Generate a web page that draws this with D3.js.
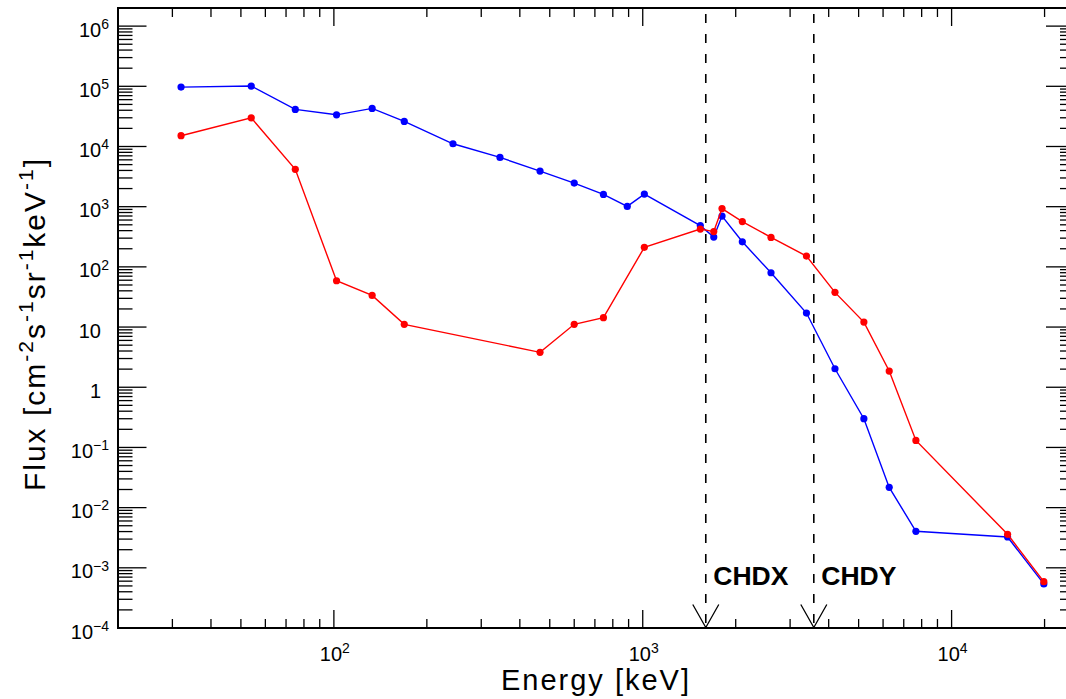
<!DOCTYPE html>
<html>
<head>
<meta charset="utf-8">
<script src="https://cdn.jsdelivr.net/npm/d3@7"></script>
<style>
  body { margin: 0; background: #fff; }
  svg { display: block; font-family: "Liberation Sans", Arial, sans-serif; }
</style>
</head>
<body>
<div id="graph"></div>
<script>
// energy channels [keV]
var energy = [32, 54, 75, 102, 133, 169, 243, 345, 465, 600, 746, 891, 1012,
              1536, 1698, 1806, 2101, 2602, 3389, 4192, 5200, 6281, 7664, 15180, 19890];

// flux values, null = no point for that channel
var fluxBlue = [97000, 101000, 41300, 33600, 42900, 26100, 11100, 6590, 3900, 2470, 1600, 1010, 1620,
                485, 313, 698, 261, 79.8, 17.1, 2.03, 0.300, 0.0217, 0.00404, 0.00325, 0.00054];
var fluxRed  = [15100, 29900, 4170, 58.8, 33.6, 11.1, null, null, 3.80, 11.1, 14.3, null, 211,
                425, 386, 930, 566, 309, 151, 37.7, 12.1, 1.86, 0.131, 0.00360, 0.000588];

// detector thresholds
var markerNames = ["CHDX", "CHDY"];
var markerEnergy = [1600, 3580];

// tick labels (exponents)
var yExp = [-4, -3, -2, -1, 0, 1, 2, 3, 4, 5, 6];
var xExp = [2, 3, 4];

var W = 1066, H = 699;
var pL = 118, pR = 1074.5, pT = 8, pB = 628;

var svg = d3.select("#graph")
  .append("svg")
    .attr("width", W)
    .attr("height", H)

var x = d3.scaleLog().domain([20, 25000]).range([pL, pR]);
var y = d3.scaleLog().domain([1e-4, 2e6]).range([pB, pT]);

// minor/major ticks
var yMajor = yExp.map(function(e) { return Math.pow(10, e); });
var yMinor = [];
yExp.forEach(function(e) {
  for (var k = 2; k <= 9; k++) {
    var v = k * Math.pow(10, e);
    if (v <= 2e6) yMinor.push(v);
  }
});
var xMajor = xExp.map(function(e) { return Math.pow(10, e); });
var xMinor = [];
[1, 2, 3, 4].forEach(function(e) {
  for (var k = 2; k <= 9; k++) {
    var v = k * Math.pow(10, e);
    if (v <= 25000) xMinor.push(v);
  }
});

var ticks = svg.append("g").attr("stroke", "#000").attr("stroke-width", 1.3);

function yTicks(vals, len) {
  ticks.selectAll(null).data(vals).enter().append("line")
    .attr("x1", pL).attr("x2", pL + len)
    .attr("y1", function(d) { return y(d); }).attr("y2", function(d) { return y(d); });
  ticks.selectAll(null).data(vals).enter().append("line")
    .attr("x1", pR).attr("x2", pR - len)
    .attr("y1", function(d) { return y(d); }).attr("y2", function(d) { return y(d); });
}
function xTicks(vals, len) {
  ticks.selectAll(null).data(vals).enter().append("line")
    .attr("y1", pB).attr("y2", pB - len)
    .attr("x1", function(d) { return x(d); }).attr("x2", function(d) { return x(d); });
  ticks.selectAll(null).data(vals).enter().append("line")
    .attr("y1", pT).attr("y2", pT + len)
    .attr("x1", function(d) { return x(d); }).attr("x2", function(d) { return x(d); });
}
yTicks(yMajor, 28.5);
yTicks(yMinor, 14.5);
xTicks(xMajor, 18);
xTicks(xMinor, 9);

// frame
svg.append("rect")
  .attr("x", pL).attr("y", pT)
  .attr("width", pR - pL).attr("height", pB - pT)
  .attr("fill", "none").attr("stroke", "#000").attr("stroke-width", 2);

// y tick labels
svg.append("g")
  .selectAll("text")
  .data(yExp)
  .enter()
  .append("text")
    .attr("x", function(e) { return (e === 0 || e === 1) ? 101 : 109; })
    .attr("y", function(e) { return y(Math.pow(10, e)) + 10.5; })
    .attr("text-anchor", "end")
    .style("font-size", "20px")
    .each(function(e) {
      var t = d3.select(this);
      if (e === 0) { t.text("1"); return; }
      if (e === 1) { t.text("10"); return; }
      t.append("tspan").text("10");
      t.append("tspan").attr("dy", -7.7).style("font-size", "14px")
        .text(String(e).replace("-", "\u2212"));
    });

// x tick labels
svg.append("g")
  .selectAll("text")
  .data(xExp)
  .enter()
  .append("text")
    .attr("x", function(e) { return x(Math.pow(10, e)) + 1; })
    .attr("y", 660.7)
    .attr("text-anchor", "middle")
    .style("font-size", "20px")
    .each(function(e) {
      var t = d3.select(this);
      t.append("tspan").text("10");
      t.append("tspan").attr("dy", -8).style("font-size", "14px").text(e);
    });

// axis titles
svg.append("text")
  .attr("x", 596).attr("y", 689.5)
  .attr("text-anchor", "middle")
  .style("font-size", "29px")
  .style("letter-spacing", "2px")
  .text("Energy [keV]");

var yt = svg.append("text")
  .attr("transform", "translate(45,324) rotate(-90)")
  .attr("text-anchor", "middle")
  .style("font-size", "30px")
  .style("letter-spacing", "2px");
[["Flux [cm", "-2"], ["s", "-1"], ["sr", "-1"], ["keV", "-1"], ["]", null]].forEach(function(p, i) {
  yt.append("tspan").attr("dy", i === 0 ? 0 : 12).text(p[0]);
  if (p[1]) yt.append("tspan").attr("dy", -12).style("font-size", "21px").text(p[1]);
});

// threshold lines with arrows and names
var mk = svg.append("g");
mk.selectAll("line")
  .data(markerEnergy)
  .enter()
  .append("line")
    .attr("x1", function(d) { return x(d); }).attr("x2", function(d) { return x(d); })
    .attr("y1", pT).attr("y2", pB)
    .attr("stroke", "#000").attr("stroke-width", 1.6)
    .attr("stroke-dasharray", "9,11")
    .attr("stroke-dashoffset", -6);
mk.selectAll("path")
  .data(markerEnergy)
  .enter()
  .append("path")
    .attr("d", function(d) {
      var cx = x(d);
      return "M" + (cx - 13) + ",604.5L" + cx + "," + (pB - 0.5) + "L" + (cx + 13) + ",604.5";
    })
    .attr("fill", "none").attr("stroke", "#000").attr("stroke-width", 1.3);
mk.selectAll("text")
  .data(markerEnergy)
  .enter()
  .append("text")
    .attr("x", function(d) { return x(d) + 7.5; })
    .attr("y", 585)
    .style("font-size", "26.5px")
    .style("font-weight", "bold")
    .text(function(d, i) { return markerNames[i]; });

// data series
function drawSeries(vals, color) {
  var pts = energy.map(function(e, i) { return [e, vals[i]]; })
    .filter(function(p) { return p[1] !== null; });
  var g = svg.append("g");
  g.append("path")
    .datum(pts)
    .attr("d", d3.line()
      .x(function(d) { return x(d[0]); })
      .y(function(d) { return y(d[1]); }))
    .attr("fill", "none")
    .attr("stroke", color)
    .attr("stroke-width", 1.4);
  g.selectAll("circle")
    .data(pts)
    .enter()
    .append("circle")
      .attr("cx", function(d) { return x(d[0]); })
      .attr("cy", function(d) { return y(d[1]); })
      .attr("r", 3.6)
      .attr("fill", color);
}
drawSeries(fluxBlue, "#0000ff");
drawSeries(fluxRed, "#ff0000");
</script>
</body>
</html>
